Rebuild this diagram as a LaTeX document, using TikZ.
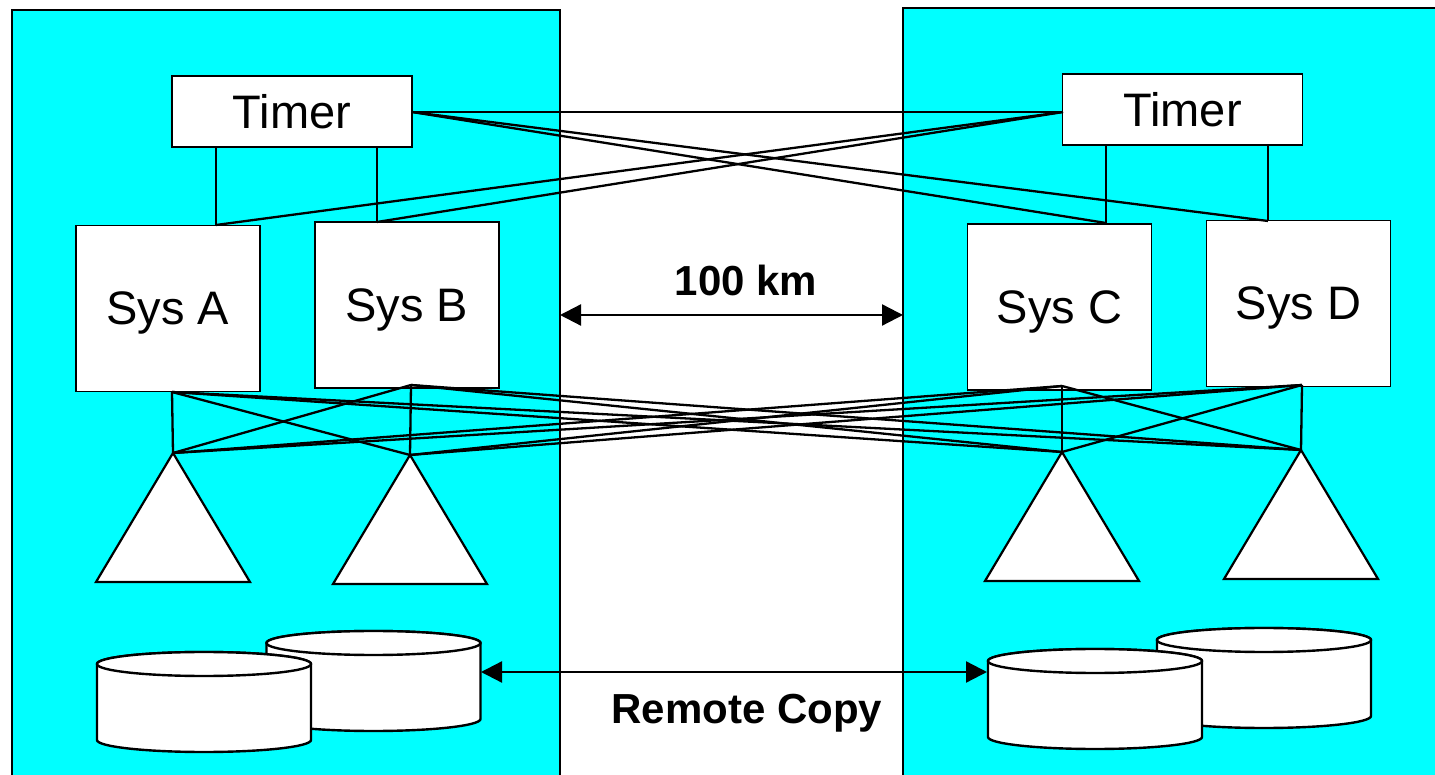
\documentclass[tikz,border=0pt]{standalone}
\usepackage{fontspec}
\setmainfont{Liberation Sans}
\usetikzlibrary{arrows.meta,positioning,calc}
\definecolor{site}{HTML}{00FFFF}
\tikzset{
  panel/.style={draw=black,fill=site,line width=2.6pt},
  box/.style={draw=black,fill=white,line width=1.8pt,inner sep=0pt,text depth=0pt,align=center,font=\fontsize{47}{56}\selectfont},
  sysbox/.style={box,minimum width=184pt,minimum height=166pt},
  tmbox/.style={box,minimum width=240pt,minimum height=71pt},
  lnk/.style={draw=black,line width=2.3pt},
  dist/.style={{Triangle[length=21pt,width=21pt]}-{Triangle[length=21pt,width=21pt]},line width=2.3pt},
  lab/.style={font=\fontsize{42}{50}\selectfont\bfseries},
  disk/.style={draw=black,fill=white,line width=2.4pt,line join=miter},
  drum/.pic={
    \draw[disk] (-107,0) -- (-107,-76) arc[start angle=180,end angle=360,x radius=107,y radius=12]
      -- (107,0) arc[start angle=0,end angle=180,x radius=107,y radius=12] -- cycle;
    \draw[disk] (0,0) ellipse[x radius=107,y radius=12];
  },
}

\begin{document}
\begin{tikzpicture}[x=1pt,y=1pt]
\clip (0,0) rectangle (1435,774);
% two sites
\draw[panel] (12,-10) rectangle (560,764);
\draw[panel] (903,-10) rectangle (1445,766);

% timers
\node[tmbox] (tmL) at (292,662.5) {Timer};
\node[tmbox] (tmR) at (1182.5,664.5) {Timer};

% systems
\node[sysbox] (sA) at (168,465.5) {Sys A};
\node[sysbox] (sB) at (407,469) {Sys B};
\node[sysbox] (sC) at (1059.5,467) {Sys C};
\node[sysbox] (sD) at (1298.5,470.5) {Sys D};

% timer links land on the system tops
\coordinate (uA) at (216,549);
\coordinate (uB) at (377,552);
\coordinate (uC) at (1106,551);
\coordinate (uD) at (1268,553);
\coordinate (xL) at (412,662);
\coordinate (xR) at (1063,662);
\foreach \s in {A,B} \draw[lnk] (tmL.south -| u\s) -- (u\s);
\foreach \s in {C,D} \draw[lnk] (tmR.south -| u\s) -- (u\s);
\draw[lnk] (xL) -- (xR);
\foreach \s in {C,D} \draw[lnk] (xL) -- (u\s);
\foreach \s in {A,B} \draw[lnk] (xR) -- (u\s);

% channel fan-out, every system to every control unit
\coordinate (bA) at (172,382);
\coordinate (bB) at (411,389);
\coordinate (bC) at (1062,388);
\coordinate (bD) at (1302,389);
\coordinate (tA) at (173,321);
\coordinate (tB) at (410,319);
\coordinate (tC) at (1062,322);
\coordinate (tD) at (1301,324);
\foreach \s in {A,B,C,D}
  \foreach \t in {A,B,C,D}
    \draw[lnk] (b\s) -- (t\t);
\foreach \t in {A,B,C,D}
  \draw[disk,line width=2.2pt] (t\t) -- ++(-77,-129) -- ++(154,0) -- cycle;

% disks
\pic at (373.5,131) {drum};
\pic at (204,110) {drum};
\pic at (1264,134) {drum};
\pic at (1095,113) {drum};

% distance and copy
\coordinate (kmL) at (560,459);
\coordinate (kmR) at (903,459);
\draw[dist] (kmL) -- (kmR);
\node[lab] (km) at (746,494) {100 km};
\coordinate (rcL) at (481,102);
\coordinate (rcR) at (987,102);
\draw[dist] (rcL) -- (rcR);
\node[lab] (rc) at (747,61) {Remote Copy};
\end{tikzpicture}
\end{document}
